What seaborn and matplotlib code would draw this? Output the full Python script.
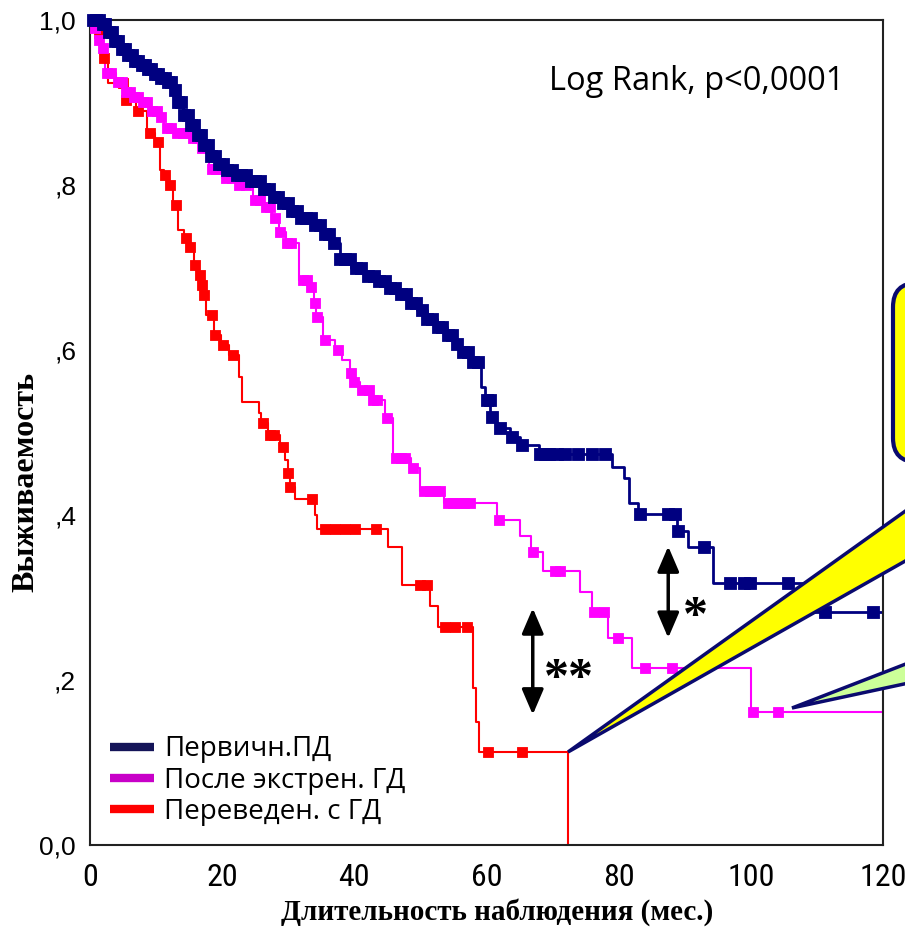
import numpy as np
import pandas as pd
import matplotlib
matplotlib.use("Agg")
import matplotlib.pyplot as plt
import seaborn as sns
from matplotlib import font_manager
from matplotlib.patches import Polygon, FancyBboxPatch
from matplotlib.lines import Line2D
from matplotlib.transforms import Affine2D

# Kaplan-Meier steps: time (months) and survival after each event

prim_t = [0, 1.5, 2.5, 3.5, 4.5, 5.5, 6.5, 7.5, 8.5, 9.5, 10.5, 11.5, 12.5, 13.0, 14.0, 15.0,
          16.0, 17.0, 18.0, 19.0, 20.5, 22.0, 24.0, 26.0, 27.5, 29.0, 30.5, 32.0, 33.5, 35.0,
          36.5, 37.8, 39.5, 41.5, 43.5, 45.0, 46.5, 48.0, 49.5, 51.0, 52.5, 54.0, 55.0, 56.0,
          57.5, 59.2, 59.8, 60.6, 61.5, 63.5, 65.0, 67.9, 79.0, 80.8, 81.6, 83.0, 88.9, 90.5,
          94.3, 108.0, 120.5]
prim_s = [1.0, 0.995, 0.985, 0.975, 0.965, 0.957, 0.95, 0.945, 0.94, 0.935, 0.93, 0.925, 0.915,
          0.90, 0.885, 0.873, 0.86, 0.848, 0.835, 0.825, 0.818, 0.812, 0.805, 0.795, 0.786, 0.778,
          0.768, 0.76, 0.752, 0.74, 0.73, 0.71, 0.70, 0.69, 0.684, 0.675, 0.668, 0.657, 0.648,
          0.638, 0.628, 0.618, 0.607, 0.598, 0.585, 0.555, 0.539, 0.519, 0.505, 0.495, 0.485,
          0.474, 0.458, 0.445, 0.415, 0.401, 0.381, 0.361, 0.318, 0.282, 0.282]
prim_cens = [0.4, 0.9, 1.4, 1.9, 2.3, 2.8, 3.3, 3.8, 4.3, 4.8, 5.3, 5.8, 6.3, 6.8, 7.3, 7.8, 8.3,
             8.8, 9.3, 9.8, 10.3, 10.8, 11.3, 11.8, 12.3, 12.8, 13.3, 13.8, 14.3, 14.8, 15.3,
             15.8, 16.3, 16.8, 17.3, 17.8, 18.3, 18.9, 19.5, 20.1, 20.8, 21.5, 22.2, 22.9, 23.6,
             24.3, 25.0, 25.7, 26.4, 27.1, 27.8, 28.5, 29.2, 29.9, 30.6, 31.3, 32.0, 32.7, 33.4,
             34.1, 34.8, 35.5, 36.2, 36.9, 37.9, 38.6, 39.3, 40.2, 41.0, 42.0, 43.0, 43.8, 44.6,
             45.4, 46.2, 47.0, 47.8, 48.6, 49.4, 50.2, 51.0, 51.8, 52.6, 53.3, 54.1, 54.8, 55.6,
             56.4, 57.2, 58.0, 58.7, 60.1, 60.5, 60.8, 62.0, 63.9, 65.4, 68.1, 68.8, 69.5, 70.7,
             71.9, 73.8, 76.0, 77.9, 83.2, 87.5, 88.5, 89.0, 92.9, 96.9, 99.0, 99.8, 105.6,
             111.2, 118.5]

post_t = [0, 0.6, 1.0, 1.6, 2.3, 4.0, 5.0, 6.2, 7.5, 9.0, 10.3, 11.2, 13.0, 15.0, 16.5, 18.0,
          20.0, 22.3, 24.6, 26.2, 27.6, 28.6, 29.6, 31.6, 33.2, 33.9, 34.2, 35.3, 37.0, 38.2,
          39.4, 39.8, 40.8, 42.6, 44.7, 45.9, 48.6, 49.9, 53.6, 61.6, 65.0, 66.8, 68.6, 74.2,
          76.0, 78.4, 82.0, 100.1, 120.5]
post_s = [1.0, 0.99, 0.976, 0.966, 0.936, 0.925, 0.913, 0.907, 0.90, 0.89, 0.882, 0.869, 0.863,
          0.857, 0.845, 0.82, 0.808, 0.80, 0.782, 0.773, 0.76, 0.743, 0.73, 0.685, 0.676, 0.657,
          0.64, 0.612, 0.60, 0.588, 0.572, 0.561, 0.552, 0.539, 0.518, 0.469, 0.457, 0.429,
          0.415, 0.394, 0.375, 0.355, 0.332, 0.307, 0.282, 0.251, 0.2145, 0.161, 0.161]
post_cens = [0.8, 1.3, 1.9, 2.6, 3.2, 4.2, 4.8, 5.4, 6.0, 6.6, 7.3, 8.0, 8.7, 9.4, 10.1, 10.8,
             11.6, 12.3, 13.2, 14.0, 14.8, 15.6, 16.2, 17.0, 18.4, 19.0, 19.8, 20.6, 21.5, 22.6,
             23.6, 25.0, 25.8, 26.6, 27.3, 28.0, 28.8, 29.8, 30.4, 32.2, 32.9, 33.5, 34.0, 34.4,
             35.6, 37.5, 39.5, 39.9, 41.1, 42.2, 42.8, 43.5, 45.0, 46.3, 47.0, 47.7, 48.9, 50.6,
             51.4, 52.2, 53.0, 54.2, 55.0, 55.8, 56.6, 57.5, 61.9, 67.1, 70.4, 71.1, 76.2, 77.8,
             79.9, 84.0, 88.0, 100.3, 104.1]

trans_t = [0, 0.5, 1.2, 2.0, 2.7, 5.3, 7.0, 8.6, 9.8, 10.6, 11.2, 12.0, 12.6, 13.3, 14.3, 15.0,
           15.7, 16.4, 16.8, 17.0, 17.6, 18.8, 19.8, 21.0, 22.6, 23.0, 25.6, 25.9, 26.9, 28.8,
           29.5, 29.9, 30.2, 31.0, 34.0, 34.3, 45.1, 47.2, 51.4, 52.7, 58.0, 58.4, 58.9, 72.3]
trans_s = [1.0, 0.99, 0.984, 0.954, 0.924, 0.903, 0.89, 0.863, 0.852, 0.818, 0.812, 0.80, 0.776,
           0.745, 0.736, 0.725, 0.703, 0.691, 0.679, 0.667, 0.642, 0.618, 0.606, 0.594, 0.567,
           0.537, 0.524, 0.511, 0.497, 0.482, 0.467, 0.451, 0.434, 0.419, 0.40, 0.383, 0.361,
           0.315, 0.29, 0.264, 0.19, 0.149, 0.1127, 0.0]
trans_cens = [0.4, 1.3, 2.1, 5.0, 5.5, 7.3, 9.1, 10.3, 11.3, 12.1, 13.0, 14.5, 15.1, 15.9, 16.6,
              16.9, 17.2, 18.5, 18.9, 20.1, 21.6, 26.2, 27.3, 27.8, 29.2, 29.9, 30.3, 33.6, 35.6,
              37.1, 38.6, 40.1, 43.3, 49.9, 51.0, 53.7, 55.2, 57.0, 60.2, 65.4]

groups = ["Первичн.ПД", "После экстрен. ГД", "Переведен. с ГД"]
line_colors = ["#000080", "#ff00ff", "#ff0000"]
legend_colors = ["#141458", "#c800c8", "#ff0000"]

xticks = [0, 20, 40, 60, 80, 100, 120]
yticks = [0.0, 0.2, 0.4, 0.6, 0.8, 1.0]
ytick_labels = ["0,0", ",2", ",4", ",6", ",8", "1,0"]


def surv_at(times, steps_t, steps_s):
    idx = np.searchsorted(steps_t, times, side="right") - 1
    return np.asarray(steps_s)[idx]


# pick a narrow sans for the x tick labels if one is installed
fonts = [(f.name, f.stretch) for f in font_manager.fontManager.ttflist]
names = {n for n, _ in fonts}
narrow_kw = dict(family=["Liberation Sans"], fontsize=20.5)
if "Liberation Sans Narrow" in names:
    narrow_kw = dict(family=["Liberation Sans Narrow"], fontsize=24)
elif "Roboto Condensed" in names:
    narrow_kw = dict(family=["Roboto Condensed"], fontsize=23)
else:
    for fam in ["Noto Sans", "DejaVu Sans", "Open Sans"]:
        if (fam, "condensed") in fonts:
            narrow_kw = dict(family=[fam], fontstretch="condensed", fontsize=22)
            break

sns.set_theme(style="white")
plt.rcParams["font.family"] = ["Liberation Sans", "DejaVu Sans"]
plt.rcParams.update({"text.color": "black", "axes.labelcolor": "black",
                     "xtick.color": "black", "ytick.color": "black"})

fig = plt.figure(figsize=(9.05, 9.30), dpi=100)
ax = fig.add_axes([90 / 905, 85 / 930, 793 / 905, 825 / 930])

curves = [
    (trans_t, trans_s, trans_cens, line_colors[2], 1.5, 50),
    (post_t, post_s, post_cens, line_colors[1], 1.5, 50),
    (prim_t, prim_s, prim_cens, line_colors[0], 2.0, 64),
]
for steps_t, steps_s, cens, col, lw, msize in curves:
    sns.lineplot(x=steps_t, y=steps_s, drawstyle="steps-post", estimator=None, sort=False,
                 color=col, linewidth=lw, ax=ax, legend=False)
    cens_df = pd.DataFrame({"t": cens, "s": surv_at(cens, steps_t, steps_s)})
    sns.scatterplot(data=cens_df, x="t", y="s", marker="s", s=msize, color=col,
                    edgecolor=col, linewidth=0.6, ax=ax, legend=False, zorder=3)
for c in ax.collections:
    c.set_clip_on(False)

ax.set_xlim(0, 120)
ax.set_ylim(0, 1.0)
ax.set_xticks(xticks)
ax.set_xticklabels([str(v) for v in xticks], **narrow_kw)
ax.set_yticks(yticks)
ax.set_yticklabels(ytick_labels, fontsize=19)
ax.tick_params(axis="both", direction="out", length=5, width=1.3, color="#222222")
ax.tick_params(axis="x", pad=8)
ax.tick_params(axis="y", pad=5)
for sp in ax.spines.values():
    sp.set_color("#222222")
    sp.set_linewidth(1.5)

ax.set_xlabel("Длительность наблюдения (мес.)", family=["Liberation Serif"], fontweight="bold",
              fontsize=21)
ax.xaxis.set_label_coords(0.513, -0.064)
ax.set_ylabel("Выживаемость", family=["Liberation Serif"], fontweight="bold", fontsize=23)
ax.yaxis.set_label_coords(-0.062, 0.44)

ax.text(91.8, 0.925, "Log Rank, p<0,0001", ha="center", va="center",
        family=["Open Sans", "DejaVu Sans"], fontsize=23.5)

# significance arrows
arrow_kw = dict(arrowstyle="<|-|>,head_length=0.7,head_width=0.3", color="black", lw=2.5,
                mutation_scale=22, shrinkA=0, shrinkB=0)
ax.annotate("", xy=(67.0, 0.158), xytext=(67.0, 0.287), arrowprops=arrow_kw)
ax.annotate("", xy=(87.5, 0.251), xytext=(87.5, 0.362), arrowprops=arrow_kw)
ax.text(72.4, 0.20, "**", ha="center", va="center", family=["Liberation Serif"],
        fontweight="bold", fontsize=36, color="black")
ax.text(91.6, 0.275, "*", ha="center", va="center", family=["Liberation Serif"],
        fontweight="bold", fontsize=36, color="black")

handles = [Line2D([0], [0], color=c, lw=6, solid_capstyle="butt") for c in legend_colors]
ax.legend(handles, groups, loc="lower left", bbox_to_anchor=(0.025, 0.023), frameon=False,
          borderpad=0, borderaxespad=0, handlelength=1.6, handletextpad=0.35, labelspacing=0.12,
          prop={"family": ["Open Sans", "DejaVu Sans"], "size": 20})

# callout shapes cut at the right edge
pix = Affine2D().scale(1, -1).translate(0, 930).scale(1 / 905, 1 / 930) + fig.transFigure
box = FancyBboxPatch((893, 283), 120, 179, boxstyle="round,pad=0,rounding_size=24",
                     facecolor="#ffff00", edgecolor="#0a0a6e", lw=3, transform=pix, zorder=10)
fig.add_artist(box)
wedge = Polygon([(568, 752), (960, 472), (960, 530)], closed=True, facecolor="#ffff00",
                edgecolor="#0a0a6e", lw=2.5, transform=pix, zorder=10)
fig.add_artist(wedge)
wedge2 = Polygon([(792, 708), (960, 643), (960, 672)], closed=True, facecolor="#ccff99",
                 edgecolor="#0a0a6e", lw=2.5, transform=pix, zorder=10)
fig.add_artist(wedge2)

fig.savefig("out.png", dpi=100)
